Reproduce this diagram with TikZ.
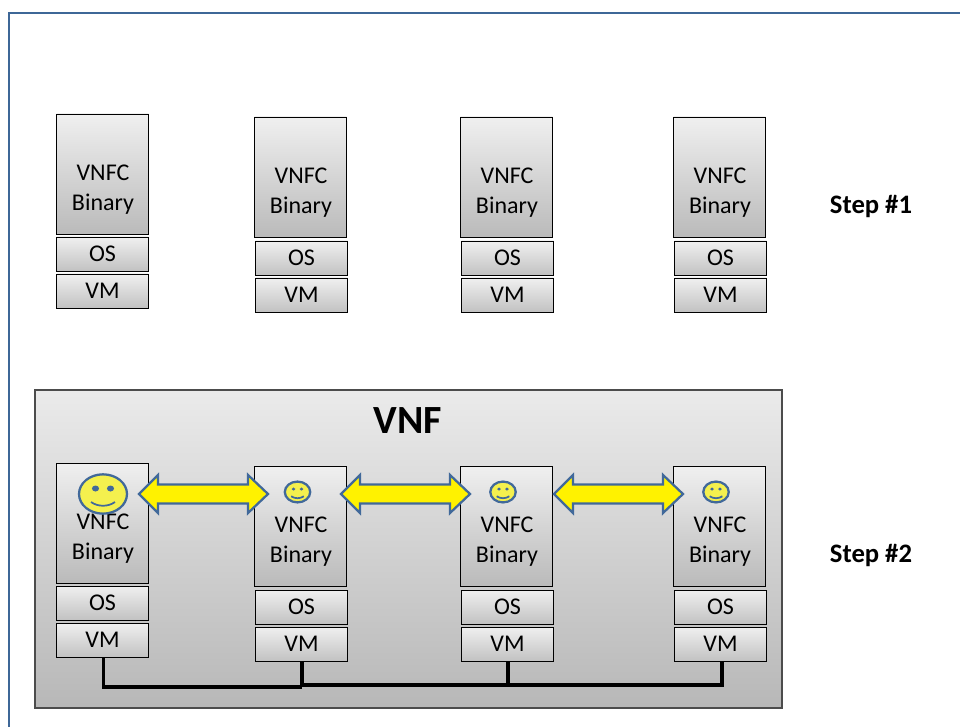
\documentclass[tikz,border=0pt]{standalone}
\usepackage{fontspec}
\setmainfont{Carlito}
\usetikzlibrary{shapes.geometric,calc}
\definecolor{frameblue}{HTML}{3E6797}
\definecolor{smileline}{HTML}{41699A}
\definecolor{smilefill}{HTML}{F4F04E}
\tikzset{
  x=0.75pt,y=-0.75pt,
  tallbox/.style={draw=black,line width=0.7pt,rectangle,inner sep=0pt,top color=black!6,bottom color=black!27,minimum width=69pt,minimum height=90pt},
  talltext/.style={align=center,font=\fontsize{18}{22}\selectfont,inner sep=0pt},
  smallbox/.style={draw=black,line width=0.7pt,rectangle,inner sep=0pt,top color=black!6,bottom color=black!24,minimum width=69pt,minimum height=25.5pt,font=\fontsize{18}{20}\selectfont},
  vnfbox/.style={draw=black!70,line width=0.8pt,rectangle,inner sep=0pt,top color=black!8,bottom color=black!28,minimum width=560.25pt,minimum height=238.5pt},
  link/.style={line width=2.4pt,draw=black,line join=miter},
  dbl/.style={draw=smileline,line width=1.7pt,fill=yellow,line join=miter},
  smile/.style={shape=ellipse,draw=smileline,fill=smilefill,inner sep=0pt,line width=1.7pt},
  steplabel/.style={font=\bfseries\fontsize{20}{22}\selectfont},
}
% #1 name, #2 x of tall box centre, #3 x of small boxes, #4 y tall centre, #5 y os, #6 y vm
\newcommand{\vnfcstack}[6]{%
  \node[tallbox] (#1t) at (#2-0.5,#4) {};
  \node[talltext] (#1x) at (#2,#4+15.5) {VNFC\\Binary};
  \node[smallbox] (#1o) at (#3-0.5,#5) {OS};
  \node[smallbox] (#1v) at (#3-0.5,#6) {VM};
}
\newcommand{\smiley}[4]{% name,x,y,scale
  \node[smile,minimum width=#4*36pt,minimum height=#4*29.5pt] (#1) at (#2,#3) {};
  \fill[smileline] (#2-#4*7.5,#3-#4*5.5) ellipse [x radius=#4*3.6,y radius=#4*3];
  \fill[smileline] (#2+#4*7.5,#3-#4*5.5) ellipse [x radius=#4*3.6,y radius=#4*3];
  \draw[smileline,line width=1.3pt] (#2-#4*12,#3+#4*8) .. controls (#2-#4*5,#3+#4*13) and (#2+#4*5,#3+#4*13) .. (#2+#4*12,#3+#4*8);
}
% #1 centre coordinate name
\newcommand{\dblarrow}[1]{%
  \draw[dbl] (#1) ++(-64.5,0) -- ++(19,-19) -- ++(0,9.5) -- ++(90,0) -- ++(0,-9.5)
    -- ++(20,19) -- ++(-20,19) -- ++(0,-9.5) -- ++(-90,0) -- ++(0,9.5) -- cycle;
}
\begin{document}
\begin{tikzpicture}
\useasboundingbox (0,0) rectangle (960,727);
\fill[white] (0,0) rectangle (960,727);
\coordinate (frameA) at (960,13);
\coordinate (frameB) at (9,13);
\coordinate (frameC) at (9,727);
\draw[frameblue,line width=1.5pt] (frameA) -- (frameB) -- (frameC);

% Step 1
\vnfcstack{a}{103}{103}{174}{254}{291}
\vnfcstack{b}{301}{302}{177}{258}{295}
\vnfcstack{c}{507}{508}{177}{258}{295}
\vnfcstack{d}{720}{721}{177}{258}{295}
\node[steplabel] (s1) at (871,206) {Step \#1};

% Step 2
\node[vnfbox] (vnf) at (408.5,549) {};
\node[font=\bfseries\fontsize{30}{34}\selectfont] (vnft) at (408,421) {VNF};
\vnfcstack{e}{103}{103}{523}{603}{640}
\vnfcstack{f}{301}{302}{526}{607}{644}
\vnfcstack{g}{507}{508}{526}{607}{644}
\vnfcstack{h}{720}{721}{526}{607}{644}
\node[steplabel] (s2) at (871,555) {Step \#2};

\coordinate (j0) at (103.5,687);
\coordinate (j1) at (302,687);
\coordinate (j1b) at (302,685);
\coordinate (j2) at (508,685);
\coordinate (j3) at (722,685);
\draw[link] (ev.south -| j0) -- (j0) -- (j1);
\draw[link] (fv.south -| j1) -- (j1);
\draw[link] (j1b) -- (j3) -- (j3 |- hv.south);
\draw[link] (gv.south -| j2) -- (j2);

\smiley{se}{103}{494}{1}
\smiley{sf}{297.5}{492}{0.53}
\smiley{sg}{503}{492}{0.53}
\smiley{sh}{716}{492}{0.53}

\coordinate (ar1) at (203.5,494);
\coordinate (ar2) at (405.5,494);
\coordinate (ar3) at (618.5,494);
\dblarrow{ar1}
\dblarrow{ar2}
\dblarrow{ar3}
\end{tikzpicture}
\end{document}
